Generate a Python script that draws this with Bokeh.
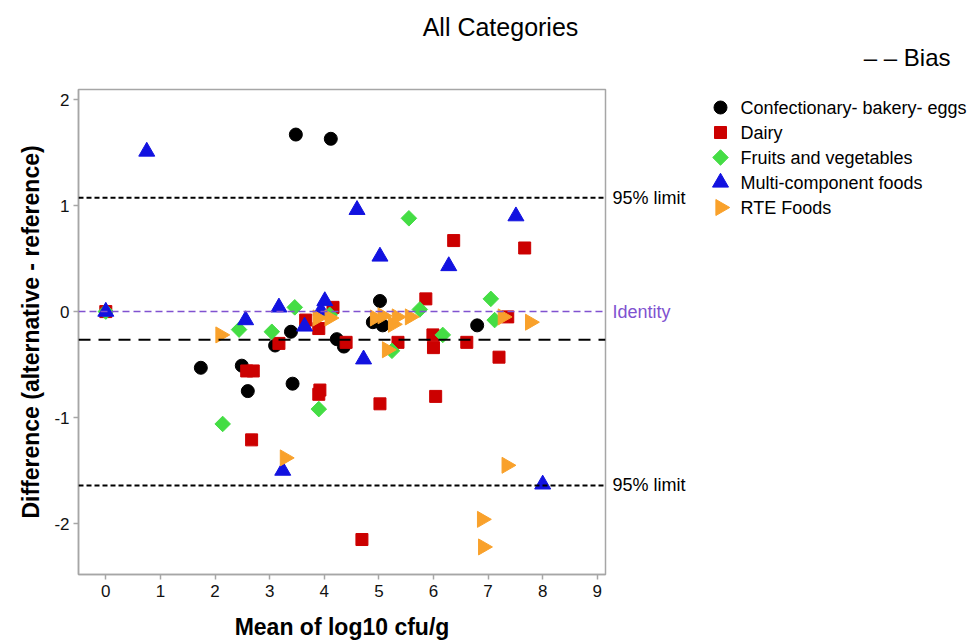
from bokeh.plotting import figure
from bokeh.layouts import row
from bokeh.models import Range1d, Span, Label, FixedTicker
from bokeh.core.properties import value
from bokeh.embed import file_html
from bokeh.resources import INLINE
import math

# ---- data ----
categories = ["Confectionary- bakery- eggs", "Dairy", "Fruits and vegetables",
              "Multi-component foods", "RTE Foods"]

conf_x = [3.48, 4.12, 1.74, 2.49, 2.60, 3.10, 3.42, 3.39, 4.23, 4.36, 5.02, 4.89, 5.07, 6.80]
conf_y = [1.67, 1.63, -0.53, -0.51, -0.75, -0.32, -0.68, -0.19, -0.26, -0.33, 0.10, -0.10, -0.13, -0.13]

dairy_x = [0.0, 2.58, 2.70, 2.67, 3.17, 3.66, 3.90, 3.92, 3.90, 4.16, 4.40, 6.37, 7.67, 5.86,
           7.36, 5.35, 5.99, 6.00, 6.61, 7.20, 5.02, 6.04, 4.69]
dairy_y = [0.0, -0.56, -0.56, -1.21, -0.30, -0.08, -0.16, -0.74, -0.78, 0.04, -0.29, 0.67, 0.60, 0.12,
           -0.05, -0.29, -0.22, -0.34, -0.29, -0.43, -0.87, -0.80, -2.15]

fruit_x = [0.0, 2.44, 2.14, 3.04, 3.46, 3.90, 4.10, 5.55, 7.05, 5.75, 6.17, 5.24, 7.12]
fruit_y = [0.0, -0.17, -1.06, -0.19, 0.04, -0.92, -0.03, 0.88, 0.12, 0.02, -0.22, -0.37, -0.08]

multi_x = [0.0, 0.75, 2.56, 3.17, 3.64, 4.01, 3.94, 3.24, 4.60, 5.02, 6.28, 7.51, 4.72, 8.00]
multi_y = [0.0, 1.51, -0.08, 0.04, -0.14, 0.10, 0.01, -1.50, 0.96, 0.52, 0.43, 0.90, -0.45, -1.63]

rte_x = [2.10, 3.28, 3.88, 4.10, 4.93, 5.07, 5.26, 5.33, 5.57, 5.15, 7.27, 7.77, 7.34, 6.89, 6.91]
rte_y = [-0.22, -1.38, -0.06, -0.06, -0.06, -0.04, -0.12, -0.05, -0.05, -0.36, -0.05, -0.10,
         -1.45, -1.96, -2.22]

bias = -0.265
upper_limit = 1.075
lower_limit = -1.64
identity = 0.0

x_ticks = [0, 1, 2, 3, 4, 5, 6, 7, 8, 9]
y_ticks = [-2, -1, 0, 1, 2]
y_tick_labels = {-2: "-2", -1: "-1", 0: "0", 1: "1", 2: "2"}

# ---- style ----
FONT = "Liberation Sans"
PURPLE = "#8052d0"
colors = ["#000000", "#cc0000", "#44dd44", "#1212e0", "#f9a12b"]
markers = ["circle", "square", "square", "triangle", "triangle"]
sizes = [13, 12, 11, 16, 16]
angles = [0, 0, math.pi / 4, 0, -math.pi / 2]

# ---- main plot ----
FL, FT, FW, FH, FR = 78, 89, 527, 485, 6
XMIN, XMAX, YMIN, YMAX = -0.5, 9.15, -2.48, 2.095

p = figure(frame_width=FW, frame_height=FH,
           min_border_left=FL, min_border_top=FT,
           min_border_right=FR, min_border_bottom=40,
           x_range=Range1d(XMIN, XMAX), y_range=Range1d(YMIN, YMAX),
           output_backend="svg", toolbar_location=None)
p.frame_align = False
p.grid.visible = False
p.outline_line_color = "#a6a6a6"
p.outline_line_width = 1.5

for ax in (p.xaxis[0], p.yaxis[0]):
    ax.axis_line_color = "#a6a6a6"
    ax.axis_line_width = 1.5
    ax.major_tick_line_color = "#a6a6a6"
    ax.major_tick_line_width = 1.5
    ax.major_tick_out = 5
    ax.major_tick_in = 0
    ax.minor_tick_line_color = None
    ax.major_label_text_font = FONT
    ax.major_label_text_font_size = "17px"
    ax.major_label_text_color = "#111111"
    ax.axis_label_text_font = FONT
    ax.axis_label_text_font_size = "23px"
    ax.axis_label_text_font_style = "bold"
    ax.axis_label_text_color = "#000000"

p.xaxis.ticker = FixedTicker(ticks=x_ticks)
p.yaxis.ticker = FixedTicker(ticks=y_ticks)
p.yaxis.major_label_overrides = y_tick_labels
p.xaxis.axis_label = "Mean of log10 cfu/g"
p.yaxis.axis_label = "Difference (alternative - reference)"
p.xaxis.major_label_standoff = 5
p.yaxis.major_label_standoff = 4
p.xaxis.axis_label_standoff = 14
p.yaxis.axis_label_standoff = 7

p.add_layout(Span(location=upper_limit, dimension="width", line_color="black",
                  line_dash="5 3", line_width=2))
p.add_layout(Span(location=lower_limit, dimension="width", line_color="black",
                  line_dash="5 3", line_width=2))
p.add_layout(Span(location=identity, dimension="width", line_color=PURPLE,
                  line_dash="7 4", line_width=1.5))
p.add_layout(Span(location=bias, dimension="width", line_color="black",
                  line_dash="12 8", line_width=2))

series = [(conf_x, conf_y), (dairy_x, dairy_y), (fruit_x, fruit_y),
          (multi_x, multi_y), (rte_x, rte_y)]
for (xs, ys), m, s, a, c in zip(series, markers, sizes, angles, colors):
    p.scatter(xs, ys, marker=m, size=s, angle=a, color=c)

p.add_layout(Label(x=XMAX, y=YMAX, x_offset=-105, y_offset=63,
                   text="All Categories", text_align="center", text_baseline="middle",
                   text_font=FONT, text_font_size="25px", text_color="black"), "above")

# ---- side panel: limit labels, bias key and legend ----
SW, SH = 366, 640
side = figure(frame_width=SW, frame_height=SH, x_range=Range1d(0, SW), y_range=Range1d(SH, 0),
              x_axis_type=None, y_axis_type=None, min_border=0, outline_line_color=None,
              output_backend="svg", toolbar_location=None)
side.frame_align = False
side.grid.visible = False


def to_side_y(v):
    return FT + (YMAX - v) * FH / (YMAX - YMIN)


side.text([1, 1, 1], [to_side_y(upper_limit), to_side_y(lower_limit), to_side_y(identity)],
          text=["95% limit", "95% limit", "Identity"], text_color=["black", "black", PURPLE],
          text_font=value(FONT), text_font_size=value("18px"), text_baseline="middle")

side.text([339], [57], text=["– – Bias"], text_align="right", text_baseline="middle",
          text_font=value(FONT), text_font_size=value("24px"), text_color="black")

row_y = [107 + 25 * i for i in range(len(categories))]
for i, (m, s, a, c) in enumerate(zip(markers, sizes, angles, colors)):
    side.scatter([109], [row_y[i]], marker=m, size=s, angle=a, color=c)
side.text([129] * len(categories), row_y, text=categories, text_baseline="middle",
          text_font=value(FONT), text_font_size=value("18px"), text_color="black")

open("out.html", "w").write(file_html(row(p, side), INLINE))
